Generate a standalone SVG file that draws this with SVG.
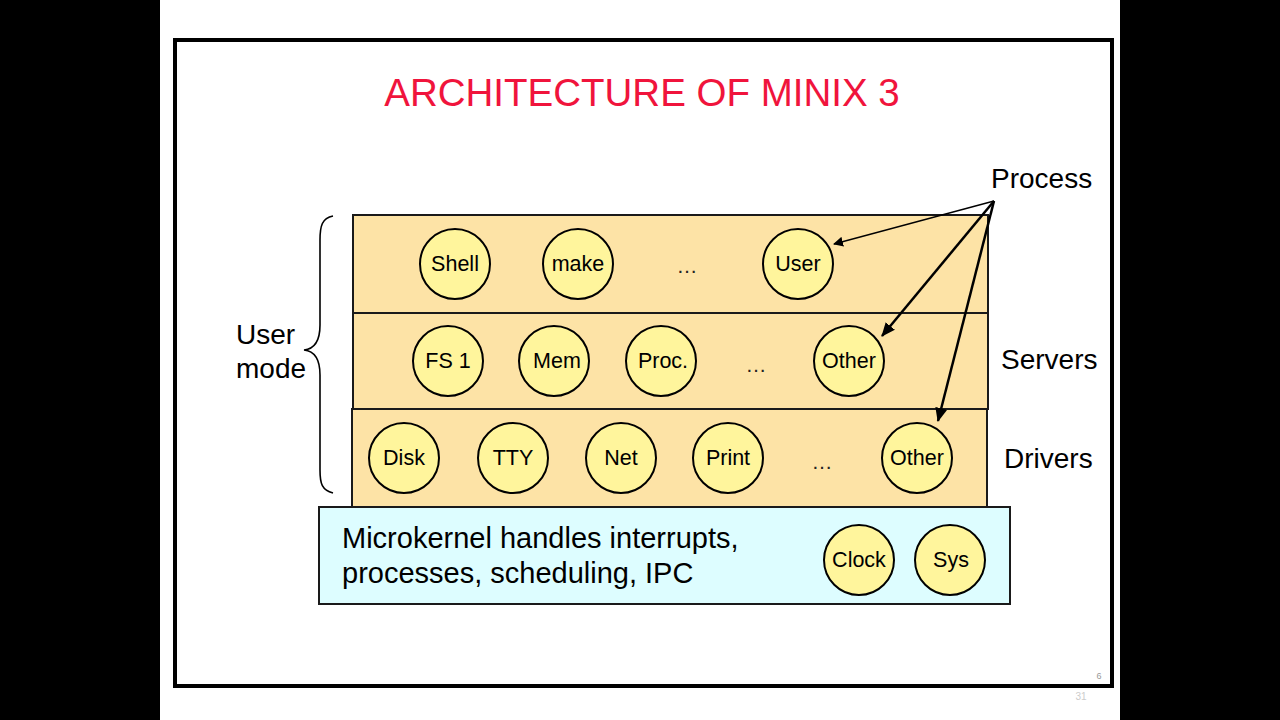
<svg xmlns="http://www.w3.org/2000/svg" width="1280" height="720" viewBox="0 0 1280 720">
<defs>
<style>
.t{font-family:"Liberation Sans",Arial,sans-serif;fill:#000}
.c{fill:#fff59c;stroke:#000;stroke-width:2}
.ct{font-family:"Liberation Sans",Arial,sans-serif;font-size:21.5px;text-anchor:middle;fill:#000}
.layer{fill:#fde3a6;stroke:#1a1a1a;stroke-width:2}
.lbl{font-family:"Liberation Sans",Arial,sans-serif;font-size:28px;fill:#000}
.dots{font-family:"Liberation Sans",Arial,sans-serif;font-size:21px;text-anchor:middle;fill:#222}
</style>
<marker id="ah" markerWidth="10" markerHeight="10" refX="9" refY="5" orient="auto" markerUnits="userSpaceOnUse" viewBox="0 0 10 10">
<path d="M0,0 L10,5 L0,10 z" fill="#000"/>
</marker>
<marker id="ah2" markerWidth="14" markerHeight="14" refX="13" refY="7" orient="auto" markerUnits="userSpaceOnUse" viewBox="0 0 14 14">
<path d="M0,1 L14,7 L0,13 z" fill="#000"/>
</marker>
</defs>
<rect x="0" y="0" width="1280" height="720" fill="#000"/>
<rect x="160" y="0" width="960" height="720" fill="#fff"/>
<rect x="175" y="40" width="937" height="646" fill="#fff" stroke="#000" stroke-width="4"/>
<text x="642" y="106" text-anchor="middle" font-family="Liberation Sans,Arial,sans-serif" font-size="38.5" fill="#f0143c">ARCHITECTURE OF MINIX 3</text>

<g id="layer-user">
<rect class="layer" x="353" y="215" width="635" height="98"/>
</g>
<g id="layer-servers">
<rect class="layer" x="353" y="313" width="635" height="96"/>
</g>
<g id="layer-drivers">
<rect class="layer" x="352" y="409" width="635" height="98"/>
</g>
<g id="layer-kernel">
<rect x="319" y="507" width="691" height="97" fill="#ddfdff" stroke="#1a1a1a" stroke-width="2"/>
<text class="t" x="342" y="548" font-size="29">Microkernel handles interrupts,</text>
<text class="t" x="342" y="583" font-size="29">processes, scheduling, IPC</text>
</g>

<g id="n-shell"><circle class="c" cx="455" cy="264" r="35"/><text class="ct" x="455" y="271">Shell</text></g>
<g id="n-make"><circle class="c" cx="578" cy="264" r="35"/><text class="ct" x="578" y="271">make</text></g>
<g id="n-dots1"><text class="dots" x="687" y="273">…</text></g>
<g id="n-user"><circle class="c" cx="798" cy="264" r="35"/><text class="ct" x="798" y="271">User</text></g>

<g id="n-fs1"><circle class="c" cx="448" cy="361" r="35"/><text class="ct" x="448" y="368">FS 1</text></g>
<g id="n-mem"><circle class="c" cx="554" cy="361" r="35"/><text class="ct" x="557" y="368">Mem</text></g>
<g id="n-proc"><circle class="c" cx="661" cy="361" r="35"/><text class="ct" x="663" y="368">Proc.</text></g>
<g id="n-dots2"><text class="dots" x="756" y="372">…</text></g>
<g id="n-other-s"><circle class="c" cx="849" cy="361" r="35"/><text class="ct" x="849" y="368">Other</text></g>

<g id="n-disk"><circle class="c" cx="404" cy="458" r="35"/><text class="ct" x="404" y="465">Disk</text></g>
<g id="n-tty"><circle class="c" cx="513" cy="458" r="35"/><text class="ct" x="513" y="465">TTY</text></g>
<g id="n-net"><circle class="c" cx="621" cy="458" r="35"/><text class="ct" x="621" y="465">Net</text></g>
<g id="n-print"><circle class="c" cx="728" cy="458" r="35"/><text class="ct" x="728" y="465">Print</text></g>
<g id="n-dots3"><text class="dots" x="822" y="469">…</text></g>
<g id="n-other-d"><circle class="c" cx="917" cy="458" r="35"/><text class="ct" x="917" y="465">Other</text></g>

<g id="n-clock"><circle class="c" cx="859" cy="560" r="35"/><text class="ct" x="859" y="567">Clock</text></g>
<g id="n-sys"><circle class="c" cx="950" cy="560" r="35"/><text class="ct" x="951" y="567">Sys</text></g>

<g id="labels">
<text class="lbl" x="991" y="188">Process</text>
<text class="lbl" x="1001" y="369">Servers</text>
<text class="lbl" x="1004" y="468">Drivers</text>
<text class="lbl" x="236" y="344">User</text>
<text class="lbl" x="236" y="378">mode</text>
<text x="1099" y="679" font-family="Liberation Sans,Arial,sans-serif" font-size="9" fill="#999" text-anchor="middle">6</text>
<text x="1081" y="700" font-family="Liberation Sans,Arial,sans-serif" font-size="10" fill="#ccc" text-anchor="middle">31</text>
</g>

<g id="brace">
<path d="M333,216 C322,218 320,226 320,240 L320,325 C320,342 314,349 304,350 C314,351 320,358 320,375 L320,470 C320,484 322,490 333,493" fill="none" stroke="#000" stroke-width="1.6"/>
</g>

<g id="connectors" fill="none" stroke="#000">
<line x1="994" y1="201" x2="834" y2="244" stroke-width="1.3" marker-end="url(#ah)"/>
<line x1="994" y1="201" x2="882" y2="336" stroke-width="2.5" marker-end="url(#ah2)"/>
<line x1="994" y1="201" x2="938" y2="421" stroke-width="2.5" marker-end="url(#ah2)"/>
</g>
</svg>
